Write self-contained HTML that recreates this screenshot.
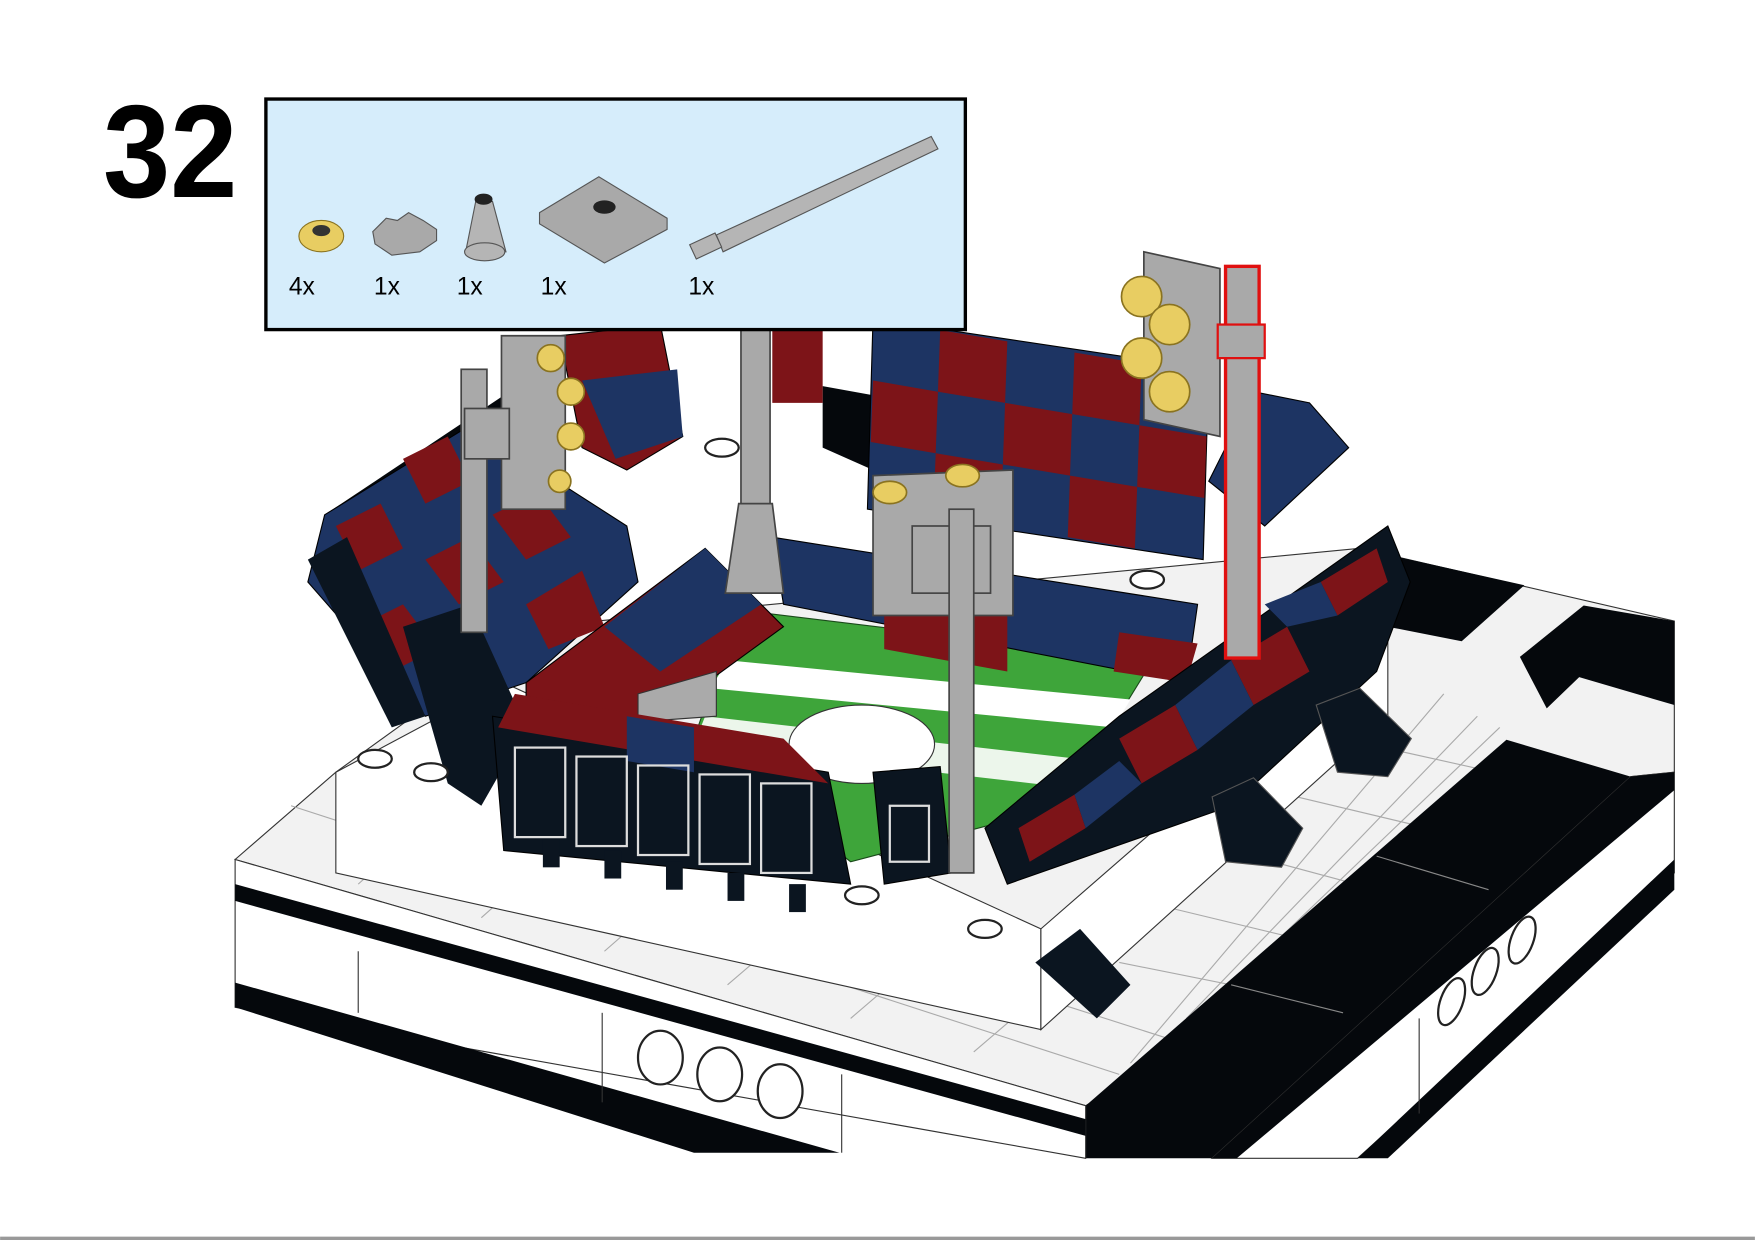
<!DOCTYPE html>
<html><head><meta charset="utf-8"><style>
html,body{margin:0;padding:0;background:#fff;}
svg{display:block}
</style></head><body>
<svg width="1755" height="1240" viewBox="0 0 1568 1108" xmlns="http://www.w3.org/2000/svg">
<rect width="1568" height="1108" fill="#fff"/>
<!-- base top surface -->
<polygon points="210,768 300,690 480,560 1215,490 1496,555 1496,690 1457,694 970,988" fill="#f2f2f2" stroke="#333" stroke-width="1"/>
<g stroke="#aaa" stroke-width="1">
<line x1="260" y1="720" x2="1000" y2="960"/><line x1="300" y1="690" x2="1050" y2="930"/>
<line x1="320" y1="790" x2="420" y2="700"/><line x1="430" y1="820" x2="520" y2="740"/>
<line x1="540" y1="850" x2="620" y2="780"/><line x1="650" y1="880" x2="720" y2="820"/>
<line x1="760" y1="910" x2="830" y2="850"/><line x1="870" y1="940" x2="940" y2="880"/>
<line x1="1010" y1="950" x2="1290" y2="620"/><line x1="1060" y1="910" x2="1320" y2="640"/>
<line x1="1110" y1="870" x2="1340" y2="650"/><line x1="1000" y1="860" x2="1300" y2="920"/>
<line x1="1040" y1="810" x2="1330" y2="880"/><line x1="1100" y1="760" x2="1360" y2="830"/>
<line x1="1150" y1="710" x2="1360" y2="760"/><line x1="1200" y1="660" x2="1380" y2="700"/>
</g>
<!-- black squares back right -->
<polygon points="1215,490 1362,523 1306,573 1240,560" fill="#05080c"/>
<polygon points="1358,587 1415,541 1496,555 1496,630 1411,605 1382,633" fill="#05080c"/>
<!-- black strip on top -->
<polygon points="970,988 1346,661 1457,694 1083,1035 970,1035" fill="#05080c"/>
<line x1="1100" y1="880" x2="1200" y2="905" stroke="#888" stroke-width="1"/>
<line x1="1230" y1="765" x2="1330" y2="795" stroke="#888" stroke-width="1"/>
<!-- right front face -->
<polygon points="1083,1035 1457,694 1496,690 1496,780 1213,1035" fill="#fff" stroke="#333"/>
<polygon points="1083,1035 1457,694 1496,690 1496,706 1105,1035" fill="#05080c"/>
<polygon points="1496,768 1496,795 1240,1035 1213,1035" fill="#05080c"/>
<line x1="1268" y1="995" x2="1268" y2="910" stroke="#333"/>
<g fill="#fff" stroke="#222" stroke-width="2">
<ellipse cx="1297" cy="895" rx="10" ry="22" transform="rotate(20 1297 895)"/><ellipse cx="1327" cy="868" rx="10" ry="22" transform="rotate(20 1327 868)"/><ellipse cx="1360" cy="840" rx="10" ry="22" transform="rotate(20 1360 840)"/>
</g>
<!-- front face -->
<polygon points="210,768 970,988 970,1035 210,900" fill="#fff" stroke="#333" stroke-width="1"/>
<polygon points="210,790 970,1000 970,1015 210,805" fill="#05080c"/>
<polygon points="210,878 750,1030 620,1030 210,900" fill="#05080c"/>
<line x1="320" y1="850" x2="320" y2="905" stroke="#333"/>
<line x1="538" y1="905" x2="538" y2="985" stroke="#333"/>
<line x1="752" y1="960" x2="752" y2="1030" stroke="#333"/>
<g fill="#fff" stroke="#222" stroke-width="2">
<ellipse cx="590" cy="945" rx="20" ry="24"/><ellipse cx="643" cy="960" rx="20" ry="24"/><ellipse cx="697" cy="975" rx="20" ry="24"/>
</g>
<!-- inner white raised base -->
<polygon points="300,690 450,610 930,830 930,920 300,780" fill="#fff" stroke="#333"/>
<polygon points="930,830 1240,560 1240,640 930,920" fill="#fff" stroke="#333"/>
<polygon points="925,860 965,830 1010,880 980,910" fill="#0b1520"/>
<!-- black rims behind stands -->
<polygon points="290,460 470,340 480,360 300,480" fill="#05080c"/>
<polygon points="735,345 790,355 780,420 735,400" fill="#05080c"/>
<!-- field -->
<polygon points="660,545 1030,590 950,720 760,770 620,660" fill="#3ea53a" stroke="#1a4a1a"/>
<polygon points="650,590 1010,625 995,650 635,615" fill="#fff"/>
<polygon points="630,640 980,680 965,705 620,665" fill="#fff" opacity="0.9"/>
<ellipse cx="770" cy="665" rx="65" ry="35" fill="#fff" stroke="#333"/>
<!-- back stand -->
<polygon points="780,285 1080,330 1075,500 775,455" fill="#1d3463" stroke="#000"/>
<g fill="#7d1418">
<polygon points="840,295 900,305 898,360 838,350"/><polygon points="960,315 1020,325 1018,380 958,370"/>
<polygon points="780,340 838,350 836,405 778,395"/><polygon points="898,360 958,370 956,425 896,415"/>
<polygon points="1018,380 1078,390 1076,445 1016,435"/><polygon points="836,405 896,415 894,465 834,455"/>
<polygon points="956,425 1016,435 1014,490 954,480"/>
</g>
<!-- back-center-right lower stand -->
<polygon points="690,480 1070,540 1060,610 700,540" fill="#1d3463" stroke="#000"/>
<polygon points="790,510 900,530 900,600 790,580" fill="#7d1418"/>
<polygon points="1000,565 1070,575 1060,610 995,600" fill="#7d1418"/>
<!-- left top stand pieces -->
<polygon points="500,300 590,290 610,390 560,420 520,400" fill="#7d1418" stroke="#000"/>
<polygon points="520,340 605,330 610,390 550,410" fill="#1d3463"/>
<polygon points="690,295 735,295 735,360 690,360" fill="#7d1418"/>
<!-- left stand -->
<polygon points="290,460 420,380 560,470 570,520 470,610 380,640 275,520" fill="#1d3463" stroke="#000"/>
<g fill="#7d1418">
<polygon points="360,410 400,390 420,430 380,450"/><polygon points="300,470 340,450 360,490 320,510"/>
<polygon points="440,460 480,440 510,480 470,500"/><polygon points="380,500 420,480 450,520 410,540"/>
<polygon points="320,560 360,540 390,580 350,600"/><polygon points="470,540 520,510 540,560 490,580"/>
</g>
<polygon points="275,500 310,480 380,640 350,650" fill="#0b1520"/>
<!-- front left stand red/navy -->
<polygon points="470,610 630,490 700,560 590,640 470,640" fill="#7d1418" stroke="#000"/>
<polygon points="540,560 630,490 680,540 590,600" fill="#1d3463"/>
<polygon points="570,620 640,600 640,640 570,645" fill="#aaa" stroke="#333"/>
<polygon points="360,560 420,540 470,650 430,720 400,700" fill="#0b1520"/>
<!-- front scoreboard -->
<polygon points="440,640 740,690 760,790 450,760" fill="#0b1520" stroke="#000"/>
<polygon points="460,620 700,660 740,700 445,650" fill="#7d1418"/>
<polygon points="560,640 620,650 620,690 560,680" fill="#1d3463"/>
<g fill="none" stroke="#ddd" stroke-width="2">
<rect x="460" y="668" width="45" height="80"/><rect x="515" y="676" width="45" height="80"/>
<rect x="570" y="684" width="45" height="80"/><rect x="625" y="692" width="45" height="80"/>
<rect x="680" y="700" width="45" height="80"/>
</g>
<g fill="#0b1520"><rect x="485" y="750" width="15" height="25"/><rect x="540" y="760" width="15" height="25"/><rect x="595" y="770" width="15" height="25"/><rect x="650" y="780" width="15" height="25"/><rect x="705" y="790" width="15" height="25"/></g>
<polygon points="780,690 840,685 850,780 790,790" fill="#0b1520" stroke="#000"/>
<rect x="795" y="720" width="35" height="50" fill="none" stroke="#ddd" stroke-width="2"/>
<!-- right stand -->
<polygon points="880,740 1000,640 1240,470 1260,520 1230,600 1100,720 900,790" fill="#0b1520" stroke="#000"/>
<g fill="#7d1418"><polygon points="1000,660 1050,630 1070,670 1020,700"/><polygon points="1100,590 1150,560 1170,600 1120,630"/><polygon points="1180,520 1230,490 1240,520 1195,550"/><polygon points="910,740 960,710 970,740 920,770"/></g>
<g fill="#1d3463"><polygon points="1050,630 1100,590 1120,630 1070,670"/><polygon points="960,710 1000,680 1020,700 970,740"/><polygon points="1130,540 1180,520 1195,550 1150,560"/></g>
<polygon points="1120,350 1170,360 1205,400 1130,470 1080,430" fill="#1d3463" stroke="#000"/>
<!-- dark slope feet -->
<polygon points="1176,630 1215,615 1261,660 1240,694 1195,690" fill="#0b1520" stroke="#555"/>
<polygon points="1083,712 1120,695 1164,740 1145,775 1095,770" fill="#0b1520" stroke="#555"/>
<!-- white studs -->
<g fill="#fff" stroke="#222" stroke-width="2">
<ellipse cx="335" cy="678" rx="15" ry="8"/><ellipse cx="385" cy="690" rx="15" ry="8"/>
<ellipse cx="770" cy="800" rx="15" ry="8"/><ellipse cx="880" cy="830" rx="15" ry="8"/>
<ellipse cx="645" cy="400" rx="15" ry="8"/><ellipse cx="1025" cy="518" rx="15" ry="8"/>
</g>
<!-- poles -->
<g fill="#a9a9a9" stroke="#444" stroke-width="1.5">
<rect x="662" y="295" width="26" height="160"/>
<polygon points="660,450 690,450 700,530 648,530"/>
<rect x="412" y="330" width="23" height="235"/>
<polygon points="448,300 505,300 505,455 448,455"/>
<rect x="415" y="365" width="40" height="45"/>
<polygon points="780,425 905,420 905,550 780,550"/>
<rect x="815" y="470" width="70" height="60"/>
<rect x="848" y="455" width="22" height="325"/>
<polygon points="1022,225 1090,240 1090,390 1022,375"/>
</g>
<g fill="#e8cd62" stroke="#8a7320" stroke-width="1.5">
<circle cx="492" cy="320" r="12"/><circle cx="510" cy="350" r="12"/><circle cx="510" cy="390" r="12"/><circle cx="500" cy="430" r="10"/>
<circle cx="1020" cy="265" r="18"/><circle cx="1045" cy="290" r="18"/><circle cx="1020" cy="320" r="18"/><circle cx="1045" cy="350" r="18"/>
<ellipse cx="795" cy="440" rx="15" ry="10"/><ellipse cx="860" cy="425" rx="15" ry="10"/>
</g>
<rect x="1095" y="238" width="30" height="350" fill="#a9a9a9" stroke="#e01010" stroke-width="3"/>
<rect x="1088" y="290" width="42" height="30" fill="#a9a9a9" stroke="#e01010" stroke-width="2"/>
<!-- parts box -->
<rect x="237.5" y="88.5" width="625" height="206" fill="#d6edfb" stroke="#000" stroke-width="3"/>
<ellipse cx="287" cy="211" rx="20" ry="14" fill="#e8cd62" stroke="#8a7320"/>
<ellipse cx="287" cy="206" rx="8" ry="5" fill="#333"/>
<polygon points="333,207 345,195 355,197 365,190 378,197 390,205 390,215 375,225 350,228 335,218" fill="#a9a9a9" stroke="#555"/>
<polygon points="425,180 440,180 452,225 416,225" fill="#b5b5b5" stroke="#555"/>
<ellipse cx="433" cy="225" rx="18" ry="8" fill="#b5b5b5" stroke="#555"/>
<ellipse cx="432" cy="178" rx="8" ry="5" fill="#222"/>
<polygon points="482,190 535,158 596,195 596,205 540,235 482,200" fill="#a9a9a9" stroke="#555"/>
<ellipse cx="540" cy="185" rx="10" ry="6" fill="#222"/>
<polygon points="640,210 832,122 838,133 646,225" fill="#b5b5b5" stroke="#555"/>
<rect x="618" y="213" width="25" height="14" fill="#b5b5b5" stroke="#555" transform="rotate(-25 630 220)"/>
<g font-family="Liberation Sans, sans-serif" font-size="22" fill="#000">
<text x="258" y="263">4x</text><text x="334" y="263">1x</text><text x="408" y="263">1x</text><text x="483" y="263">1x</text><text x="615" y="263">1x</text>
</g>
<text x="92" y="176" font-family="Liberation Sans, sans-serif" font-weight="bold" font-size="118" fill="#000" textLength="120" lengthAdjust="spacingAndGlyphs">32</text>
<rect x="0" y="1105" width="1568" height="3" fill="#999"/>
</svg>
</body></html>
